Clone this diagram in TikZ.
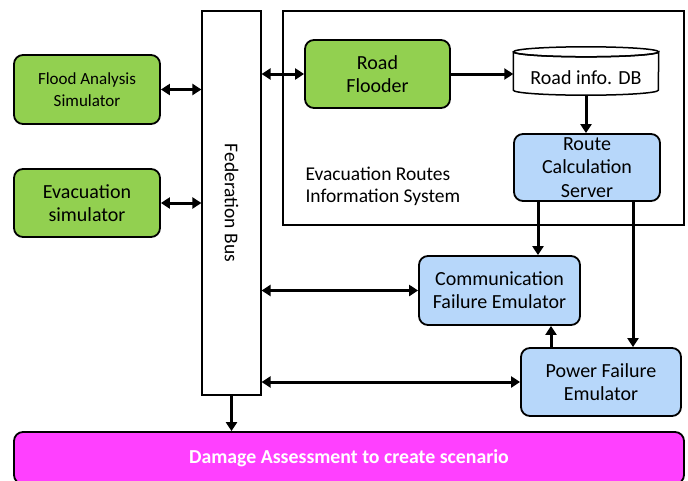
\documentclass[tikz,border=0pt]{standalone}
\usepackage{xcolor}
\usepackage{tikz}
\usepackage{fontspec}
\setmainfont{Carlito}
\usetikzlibrary{arrows.meta}
\definecolor{simgreen}{RGB}{146,208,80}
\definecolor{emublue}{RGB}{183,215,250}
\definecolor{damagepink}{RGB}{255,64,255}

\begin{document}
\begin{tikzpicture}[x=1pt, y=-1pt, >={Triangle[length=9pt,width=11pt]},
	main/.style = {draw, line width=1.8pt, rounded corners=9pt, align=center, font=\fontsize{20}{23}\selectfont},
	sim/.style = {main, fill=simgreen},
	emu/.style = {main, fill=emublue},
	link/.style = {line width=3pt}]
	\useasboundingbox (0,0) rectangle (688,480);
	\node[draw, line width=1.2pt, minimum width=401pt, minimum height=214pt] (eris) at (483.5,118) {};
	\node[align=left, anchor=west, font=\fontsize{19.5}{22}\selectfont] (erislabel) at (302,186) {Evacuation Routes\\Information System};
	\node[sim, minimum width=146pt, minimum height=69pt, font=\fontsize{17}{22}\selectfont] (flood) at (87,89.5) {Flood Analysis\\Simulator};
	\node[sim, minimum width=146pt, minimum height=68pt] (evac) at (87,203) {Evacuation\\simulator};
	\node[draw, line width=1.2pt, minimum width=59pt, minimum height=384pt,
		label={[rotate=-90, font=\fontsize{19.5}{20}\selectfont]center:Federation Bus}] (bus) at (231.5,203) {};
	\node[sim, minimum width=145pt, minimum height=68pt] (flooder) at (377.5,74) {Road\\Flooder};
	\node[minimum width=145pt, minimum height=38pt] (db) at (586,71) {};
	\draw[line width=1.5pt, fill=white] (db.north west) -- (db.south west)
		arc[start angle=180, end angle=360, x radius=72.5pt, y radius=5pt]
		-- (db.north east) arc[start angle=0, end angle=-180, x radius=72.5pt, y radius=5pt];
	\draw[line width=1.5pt] (db.north) ellipse[x radius=72.5pt, y radius=5pt];
	\node[font=\fontsize{20}{20}\selectfont] (dblabel) at (586,78) {Road info. DB};
	\node[emu, minimum width=146pt, minimum height=67pt, font=\fontsize{20}{23.5}\selectfont] (route) at (587,167.5) {Route\\Calculation\\Server};
	\node[emu, minimum width=161pt, minimum height=69pt] (comm) at (499.5,290.5) {Communication\\Failure Emulator};
	\node[emu, minimum width=160pt, minimum height=68pt] (power) at (601,382) {Power Failure\\Emulator};
	\node[main, fill=damagepink, text=white, minimum width=670pt, minimum height=52pt,
		font=\fontsize{19.8}{22}\selectfont\bfseries] (damage) at (349,458) {Damage Assessment to create scenario};
	\draw[link, <->] (flood.east) -- (flood.east -| bus.west);
	\draw[link, <->] (evac.east) -- (evac.east -| bus.west);
	\draw[link, <->] (bus.east |- flooder.west) -- (flooder.west);
	\draw[link, ->] (flooder.east) -- (db.west |- flooder.east);
	\draw[link, ->] ([yshift=-5pt]db.south) -- (route.north -| db.south);
	\draw[link, ->] (route.south -| 538,0) -- (comm.north -| 538,0);
	\draw[link, ->] (route.south -| 633,0) -- (power.north -| 633,0);
	\draw[link, ->] (power.north -| 551,0) -- (comm.south -| 551,0);
	\draw[link, <->] (bus.east |- comm.west) -- (comm.west);
	\draw[link, <->] (bus.east |- power.west) -- (power.west);
	\draw[link, ->] (bus.south) -- (damage.north -| bus.south);
\end{tikzpicture}
\end{document}
